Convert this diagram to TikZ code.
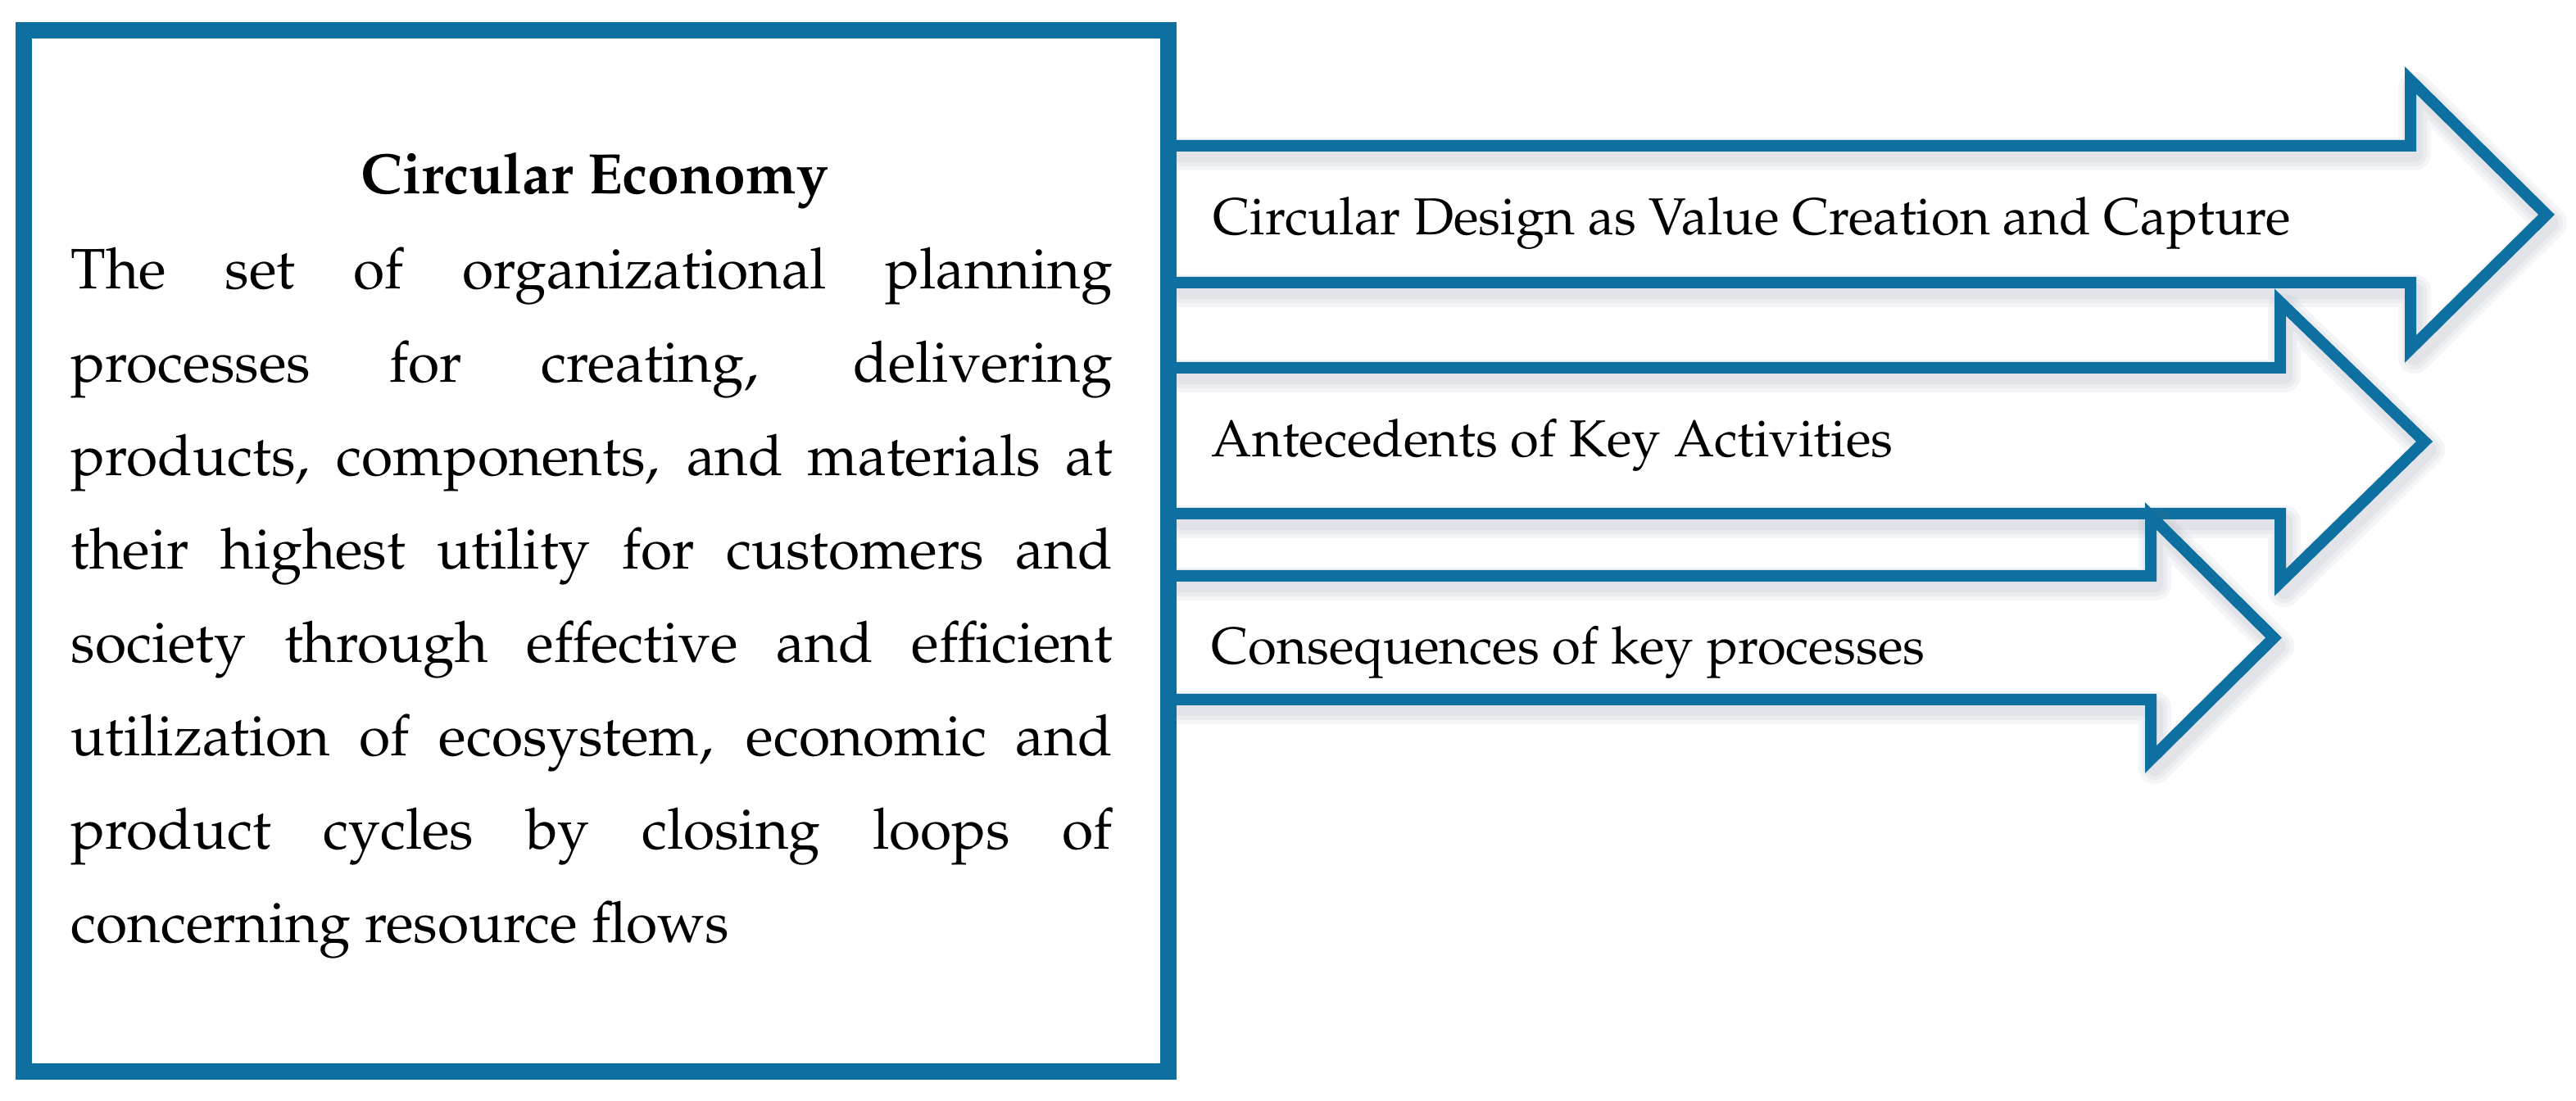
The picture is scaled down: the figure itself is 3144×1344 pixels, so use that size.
\documentclass[tikz,border=0pt]{standalone}
\usepackage[T1]{fontenc}
\usepackage{mathpazo}
\definecolor{ceblue}{RGB}{14,112,160}
\definecolor{shadowc}{RGB}{110,122,145}
\tikzset{
  arrowline/.style={draw=ceblue, line width=3.5pt, miter limit=10},
  shadowline/.style={draw=shadowc, line width=#1, draw opacity=0.07, line join=round},
  boxline/.style={draw=ceblue, line width=5pt, fill=white},
  arrowtext/.style={font=\fontsize{15.85pt}{28.5pt}\selectfont, inner sep=0pt, anchor=base west},
  titletext/.style={font=\fontsize{17.4pt}{28.5pt}\selectfont\bfseries, inner sep=0pt, anchor=base},
  bodytext/.style={font=\fontsize{17.4pt}{28.5pt}\selectfont, inner sep=0pt, anchor=base west,
    text width=317.75pt, align=justify},
}
% #1 shaft top, #2 shaft bottom, #3 head back x, #4 head top y, #5 tip x, #6 tip y, #7 head bottom y
\newcommand\cearrow[7]{%
  \fill[white] (1426,#1) -- (#3,#1) -- (#3,#4) -- (#5,#6) -- (#3,#7) -- (#3,#2) -- (1426,#2) -- cycle;
  \foreach \w in {10pt,7.5pt,5pt}{%
    \draw[shadowline=\w, shift={(5,10)}] (1426,#1) -- (#3,#1) -- (#3,#4) -- (#5,#6) -- (#3,#7) -- (#3,#2) -- (1426,#2);
  }
  \draw[arrowline] (1426,#1) -- (#3,#1) -- (#3,#4) -- (#5,#6) -- (#3,#7) -- (#3,#2) -- (1426,#2) -- cycle;
}
\begin{document}
\begin{tikzpicture}[x=0.25pt, y=-0.25pt]
\useasboundingbox (0,0) rectangle (3144,1344);
\fill[white] (0,0) rectangle (3144,1344);
% arrows
\cearrow{178}{345}{2942}{98}{3108}{262}{426}
\cearrow{449}{627}{2783}{369}{2959}{539}{711}
\cearrow{703}{854}{2625}{630}{2775}{778.5}{927}
% main box
\draw[boxline] (29,37) rectangle (1426,1308);
% texts
\node[titletext] (title) at (726,237) {Circular Economy};
\node[bodytext] (def) at (86,353) {The set of organizational planning\linebreak
processes for creating, delivering\linebreak
products, components, and materials at\linebreak
their highest utility for customers and\linebreak
society through effective and efficient\linebreak
utilization of ecosystem, economic and\linebreak
product cycles by closing loops of\linebreak
concerning resource flows};
\node[arrowtext] (a1) at (1480,287) {Circular Design as Value Creation and Capture};
\node[arrowtext] (a2) at (1478,558) {Antecedents of Key Activities};
\node[arrowtext] (a3) at (1478,811) {Consequences of key processes};
\end{tikzpicture}
\end{document}
